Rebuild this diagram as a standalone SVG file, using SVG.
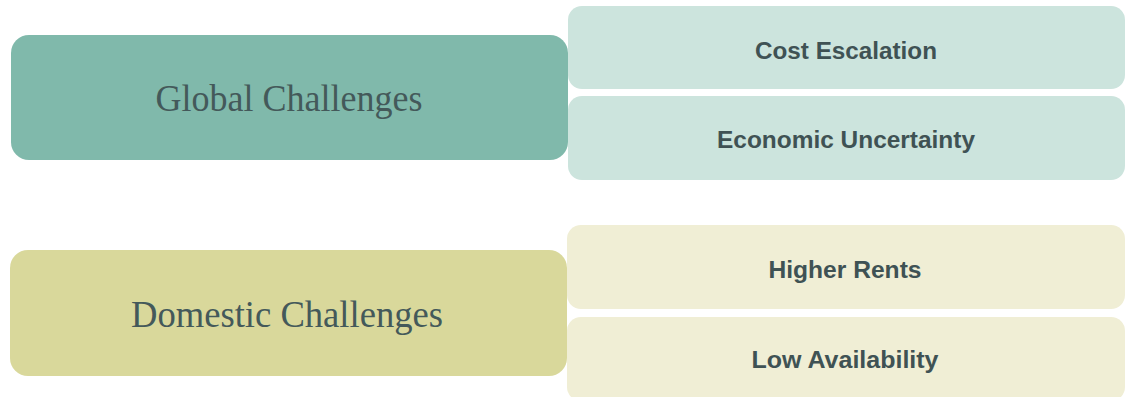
<svg xmlns="http://www.w3.org/2000/svg" width="1135" height="397" viewBox="0 0 1135 397">
<style>
.main{font-family:"Liberation Serif","Times New Roman",serif;font-size:37px;fill:#44595a;text-anchor:middle}
.sub{font-family:"Liberation Sans",Arial,sans-serif;font-size:23px;font-weight:bold;fill:#3f5254;text-anchor:middle}
.g1{fill:#80b9ab}.g2{fill:#cce4dd}.d1{fill:#d9d89b}.d2{fill:#f0eed5}
</style>
<rect width="1135" height="397" fill="#ffffff"/>
<g id="connectors"></g>
<g id="cost-escalation"><rect class="g2" x="568" y="6" width="557" height="83" rx="14"/><text class="sub" x="846" y="59" textLength="182" lengthAdjust="spacingAndGlyphs">Cost Escalation</text></g>
<g id="economic-uncertainty"><rect class="g2" x="568" y="96" width="557" height="84" rx="14"/><text class="sub" x="846" y="148" textLength="258" lengthAdjust="spacingAndGlyphs">Economic Uncertainty</text></g>
<g id="global-challenges"><rect class="g1" x="11" y="35" width="557" height="125" rx="18"/><text class="main" x="289" y="111" textLength="267" lengthAdjust="spacingAndGlyphs">Global Challenges</text></g>
<g id="higher-rents"><rect class="d2" x="567" y="225" width="558" height="84" rx="14"/><text class="sub" x="845" y="278" textLength="153" lengthAdjust="spacingAndGlyphs">Higher Rents</text></g>
<g id="low-availability"><rect class="d2" x="567" y="317" width="558" height="84" rx="14"/><text class="sub" x="845" y="368" textLength="187" lengthAdjust="spacingAndGlyphs">Low Availability</text></g>
<g id="domestic-challenges"><rect class="d1" x="10" y="250" width="557" height="126" rx="18"/><text class="main" x="287" y="327" textLength="312" lengthAdjust="spacingAndGlyphs">Domestic Challenges</text></g>
</svg>
